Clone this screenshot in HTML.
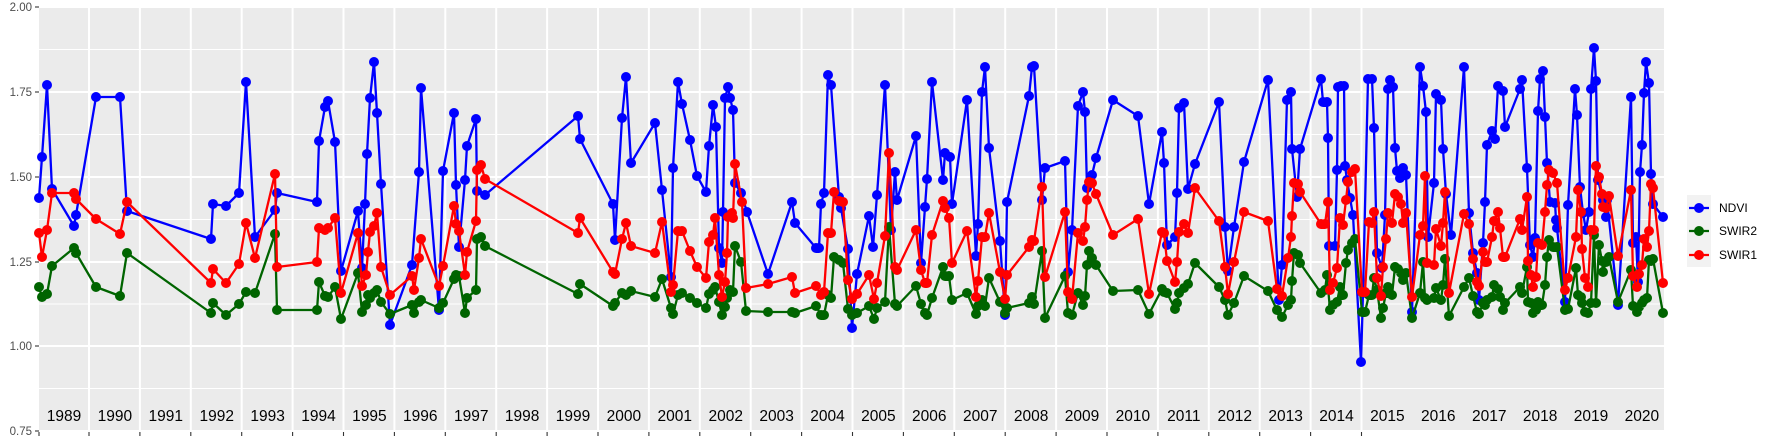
<!DOCTYPE html>
<html><head><meta charset="utf-8"><style>
html,body{margin:0;padding:0;background:#fff}
svg{display:block}
text{font-family:"Liberation Sans",sans-serif}
</style></head><body>
<svg id="s" width="1773" height="442" xmlns="http://www.w3.org/2000/svg">
<rect x="39" y="7" width="1625" height="425" fill="#EBEBEB"/>
<g id="grid"></g>
<g id="data"></g>
<g id="labels"></g>
<rect x="1687" y="195" width="24" height="72" fill="#F2F2F2"/>
<line x1="1689" y1="208" x2="1709" y2="208" stroke="#0000FF" stroke-width="2.3"/><circle cx="1699" cy="208" r="5" fill="#0000FF"/>
<line x1="1689" y1="231" x2="1709" y2="231" stroke="#006400" stroke-width="2.3"/><circle cx="1699" cy="231" r="5" fill="#006400"/>
<line x1="1689" y1="255" x2="1709" y2="255" stroke="#FF0000" stroke-width="2.3"/><circle cx="1699" cy="255" r="5" fill="#FF0000"/>
<text x="1719" y="212" font-size="12" fill="#000">NDVI</text>
<text x="1719" y="235" font-size="12" fill="#000">SWIR2</text>
<text x="1719" y="259" font-size="12" fill="#000">SWIR1</text>
</svg>
<script>
var NS="http://www.w3.org/2000/svg";
function el(p,t,a,txt){var e=document.createElementNS(NS,t);for(var k in a)e.setAttribute(k,a[k]);if(txt)e.textContent=txt;p.appendChild(e);return e;}
var g=document.getElementById("grid"),lab=document.getElementById("labels"),d=document.getElementById("data");
var maj=[7,92,177,262,346,431],mn=[49.5,134.5,219.5,304,388.5];
mn.forEach(function(y){el(g,"line",{x1:39,x2:1664,y1:y,y2:y,stroke:"#fff","stroke-width":1});});
maj.forEach(function(y){el(g,"line",{x1:39,x2:1664,y1:y,y2:y,stroke:"#fff","stroke-width":2});});
["2.00","1.75","1.50","1.25","1.00","0.75"].forEach(function(t,i){
 el(lab,"text",{x:32,y:maj[i]+4,"font-size":11.5,fill:"#4D4D4D","text-anchor":"end"},t);
 el(lab,"line",{x1:35,x2:39,y1:maj[i],y2:maj[i],stroke:"#333","stroke-width":1.1});
});
for(var k=0;k<=25;k++){var x=89+k*50.9;el(g,"line",{x1:x,x2:x,y1:7,y2:432,stroke:"#fff","stroke-width":2});
 el(lab,"line",{x1:x,x2:x,y1:432,y2:436,stroke:"#333","stroke-width":1.1});}
el(lab,"line",{x1:39,x2:39,y1:432,y2:436,stroke:"#333","stroke-width":1.1});
for(var k=0;k<32;k++){el(lab,"text",{x:64+k*50.9,y:421,"font-size":15.5,fill:"#000","text-anchor":"middle"},String(1989+k));}
var B=[[39,198],[42,157],[47,85],[52,189],[74,226],[76,215],[96,97],[120,97],[127,211],[211,239],[213,204],[226,206],[239,193],[246,82],[255,237],[275,210],[277,193],[317,202],[319,141],[325,107],[328,101],[335,142],[341,271],[358,211],[362,268],[365,204],[367,154],[370,98],[374,62],[377,113],[381,184],[390,325],[412,265],[419,172],[421,88],[439,310],[443,171],[454,113],[456,185],[459,247],[465,180],[467,146],[476,119],[477,191],[485,195],[578,116],[580,139],[613,204],[615,240],[622,118],[626,77],[631,163],[655,123],[662,190],[671,277],[673,168],[678,82],[682,104],[690,140],[697,176],[706,192],[709,146],[713,105],[716,127],[719,248],[722,263],[723,212],[725,98],[728,87],[730,98],[733,110],[735,183],[741,193],[747,212],[768,274],[792,202],[795,223],[816,248],[819,248],[821,204],[824,193],[828,75],[831,85],[839,197],[841,208],[848,249],[852,328],[857,274],[869,216],[873,247],[877,195],[885,85],[891,230],[895,172],[897,200],[916,136],[921,263],[925,207],[927,179],[932,82],[943,180],[945,153],[950,157],[952,204],[967,100],[976,256],[978,224],[982,92],[985,67],[989,148],[1000,241],[1005,315],[1007,202],[1029,96],[1032,67],[1034,66],[1042,200],[1045,168],[1065,161],[1068,272],[1072,230],[1078,106],[1083,92],[1085,112],[1087,188],[1092,175],[1096,158],[1113,100],[1138,116],[1149,204],[1162,132],[1164,163],[1167,245],[1175,237],[1177,193],[1179,108],[1184,103],[1188,189],[1195,164],[1219,102],[1225,227],[1228,271],[1234,227],[1244,162],[1268,80],[1279,300],[1282,265],[1287,100],[1291,92],[1292,149],[1297,197],[1300,149],[1321,79],[1323,102],[1327,102],[1328,138],[1329,246],[1335,246],[1337,170],[1338,87],[1341,86],[1344,86],[1345,166],[1347,180],[1350,198],[1353,215],[1361,362],[1363,293],[1368,79],[1372,79],[1374,128],[1377,253],[1382,268],[1385,215],[1388,89],[1390,80],[1393,87],[1395,148],[1397,171],[1400,178],[1403,168],[1406,175],[1412,312],[1420,67],[1423,86],[1426,112],[1428,237],[1434,183],[1436,94],[1441,100],[1443,149],[1446,194],[1451,235],[1464,67],[1469,213],[1473,253],[1477,273],[1479,300],[1483,243],[1485,202],[1487,145],[1492,131],[1495,139],[1498,86],[1503,91],[1505,127],[1520,89],[1522,80],[1527,168],[1530,245],[1533,257],[1535,238],[1538,111],[1540,79],[1543,71],[1545,117],[1547,163],[1550,202],[1555,203],[1556,220],[1557,228],[1565,302],[1568,205],[1575,89],[1577,115],[1580,187],[1583,213],[1586,230],[1589,212],[1591,89],[1594,48],[1596,81],[1598,180],[1603,200],[1606,217],[1607,200],[1618,305],[1631,97],[1633,243],[1636,237],[1638,282],[1640,172],[1642,145],[1644,93],[1646,62],[1649,83],[1651,174],[1653,204],[1663,217]];
var G=[[39,287],[42,297],[47,294],[52,266],[74,248],[76,253],[96,287],[120,296],[127,253],[211,313],[213,303],[226,315],[239,304],[246,292],[255,293],[275,234],[277,310],[317,310],[319,282],[325,296],[328,297],[335,287],[341,319],[358,273],[362,312],[366,305],[368,295],[370,298],[374,293],[377,290],[381,302],[390,314],[412,305],[414,313],[419,302],[421,300],[439,308],[443,303],[454,279],[456,275],[459,276],[465,313],[467,298],[476,290],[477,239],[481,237],[485,246],[578,294],[580,284],[613,306],[615,303],[622,293],[626,295],[631,291],[655,297],[662,279],[671,308],[673,314],[678,295],[682,293],[690,298],[697,303],[706,308],[709,294],[713,290],[715,287],[719,302],[722,315],[725,307],[727,298],[730,290],[733,292],[735,246],[741,262],[746,311],[768,312],[792,312],[795,313],[816,306],[821,315],[824,315],[828,295],[831,298],[834,257],[839,260],[843,263],[848,309],[852,315],[857,313],[869,306],[874,319],[877,308],[885,302],[889,227],[895,304],[897,306],[916,286],[921,304],[925,313],[927,315],[932,298],[943,267],[945,276],[949,276],[952,300],[967,293],[976,314],[978,306],[982,300],[985,306],[989,278],[1000,302],[1005,313],[1007,308],[1029,303],[1032,297],[1034,304],[1042,251],[1045,318],[1065,276],[1068,313],[1072,315],[1078,293],[1083,305],[1085,296],[1087,265],[1089,251],[1092,258],[1096,265],[1113,291],[1138,290],[1149,314],[1162,289],[1164,292],[1167,293],[1175,309],[1177,303],[1179,293],[1184,288],[1188,284],[1195,263],[1219,287],[1225,300],[1228,315],[1234,303],[1244,276],[1268,291],[1277,310],[1282,317],[1288,305],[1291,300],[1292,281],[1294,253],[1298,255],[1300,263],[1321,293],[1325,290],[1327,275],[1330,310],[1333,305],[1337,302],[1340,287],[1343,295],[1346,263],[1348,250],[1352,243],[1355,239],[1362,312],[1365,312],[1369,295],[1372,295],[1374,278],[1377,290],[1381,318],[1383,308],[1386,293],[1388,287],[1392,295],[1395,267],[1398,269],[1401,273],[1403,280],[1406,273],[1412,318],[1420,293],[1423,262],[1425,298],[1427,300],[1434,298],[1436,288],[1441,300],[1443,285],[1445,259],[1449,316],[1464,287],[1469,278],[1473,296],[1477,312],[1479,314],[1483,303],[1485,305],[1487,300],[1492,297],[1494,285],[1498,289],[1500,297],[1503,310],[1505,303],[1520,287],[1522,293],[1527,267],[1528,302],[1531,303],[1533,313],[1536,310],[1538,302],[1542,305],[1545,285],[1547,257],[1549,240],[1553,247],[1557,247],[1565,310],[1568,309],[1576,268],[1578,295],[1581,297],[1582,303],[1585,312],[1588,313],[1591,303],[1594,235],[1596,303],[1599,245],[1602,261],[1603,272],[1606,262],[1609,257],[1618,302],[1631,270],[1633,306],[1637,312],[1639,307],[1642,303],[1644,300],[1647,298],[1649,260],[1651,261],[1653,259],[1663,313]];
var R=[[39,233],[42,257],[47,230],[52,193],[74,193],[76,199],[96,219],[120,234],[127,202],[211,283],[213,269],[226,283],[239,264],[246,223],[255,258],[275,174],[277,267],[317,262],[319,228],[325,230],[328,228],[335,218],[341,293],[358,233],[362,286],[366,275],[368,252],[370,232],[374,226],[377,213],[381,267],[390,295],[412,276],[414,290],[419,258],[421,239],[439,286],[443,266],[454,206],[456,224],[459,231],[465,275],[467,252],[476,221],[477,170],[481,165],[485,179],[578,233],[580,218],[613,272],[615,274],[622,239],[626,223],[631,246],[655,253],[662,222],[671,292],[673,285],[678,231],[682,231],[690,251],[697,267],[706,278],[709,242],[713,235],[715,218],[719,275],[722,297],[725,282],[727,253],[728,217],[732,213],[733,218],[735,164],[742,202],[746,288],[768,284],[792,277],[795,293],[816,286],[821,295],[824,292],[828,233],[831,233],[834,192],[839,201],[843,202],[848,280],[852,299],[857,294],[869,275],[874,299],[877,283],[885,236],[889,153],[895,267],[897,270],[916,230],[921,270],[925,283],[927,283],[932,235],[943,201],[945,208],[949,218],[952,263],[967,231],[976,297],[978,281],[982,237],[985,237],[989,213],[1000,272],[1005,299],[1007,275],[1029,247],[1032,240],[1034,241],[1042,187],[1045,277],[1065,212],[1068,292],[1072,299],[1078,233],[1083,241],[1085,227],[1087,200],[1089,182],[1092,183],[1096,194],[1113,235],[1138,219],[1149,294],[1162,232],[1164,233],[1167,261],[1175,282],[1177,262],[1179,232],[1184,224],[1188,233],[1195,188],[1219,221],[1225,267],[1228,294],[1234,262],[1244,212],[1268,221],[1277,289],[1282,296],[1288,258],[1291,237],[1292,216],[1294,183],[1298,184],[1300,192],[1321,224],[1325,224],[1328,202],[1330,290],[1333,283],[1337,268],[1340,218],[1343,225],[1346,200],[1348,182],[1352,172],[1355,169],[1362,292],[1365,292],[1369,222],[1372,223],[1374,212],[1377,278],[1381,296],[1383,267],[1386,239],[1388,213],[1392,223],[1395,194],[1398,197],[1401,204],[1403,223],[1406,213],[1412,297],[1420,235],[1423,226],[1425,176],[1427,263],[1434,265],[1436,229],[1441,246],[1443,223],[1445,192],[1449,293],[1464,214],[1469,224],[1473,259],[1477,282],[1479,286],[1483,252],[1485,262],[1487,262],[1492,237],[1494,221],[1498,212],[1500,228],[1503,257],[1505,257],[1520,219],[1522,230],[1527,197],[1528,261],[1531,275],[1533,287],[1536,277],[1538,243],[1542,245],[1545,212],[1547,185],[1549,170],[1553,173],[1557,183],[1565,290],[1568,278],[1576,237],[1578,190],[1581,212],[1582,249],[1585,278],[1588,287],[1591,230],[1594,230],[1596,166],[1599,177],[1602,194],[1603,207],[1606,208],[1609,196],[1618,256],[1631,190],[1633,276],[1637,287],[1639,274],[1642,265],[1644,239],[1647,247],[1649,231],[1651,184],[1653,188],[1663,283]];
function series(P,c){
 el(d,"polyline",{points:P.map(function(p){return p.join(",")}).join(" "),fill:"none",stroke:c,"stroke-width":2.3,"stroke-linejoin":"round"});
 var s="";P.forEach(function(p){s+="M"+(p[0]-5)+","+p[1]+"a5,5 0 1,0 10,0a5,5 0 1,0 -10,0";});
 el(d,"path",{d:s,fill:c});
}
series(B,"#0000FF");series(G,"#006400");series(R,"#FF0000");
</script>
</body></html>
